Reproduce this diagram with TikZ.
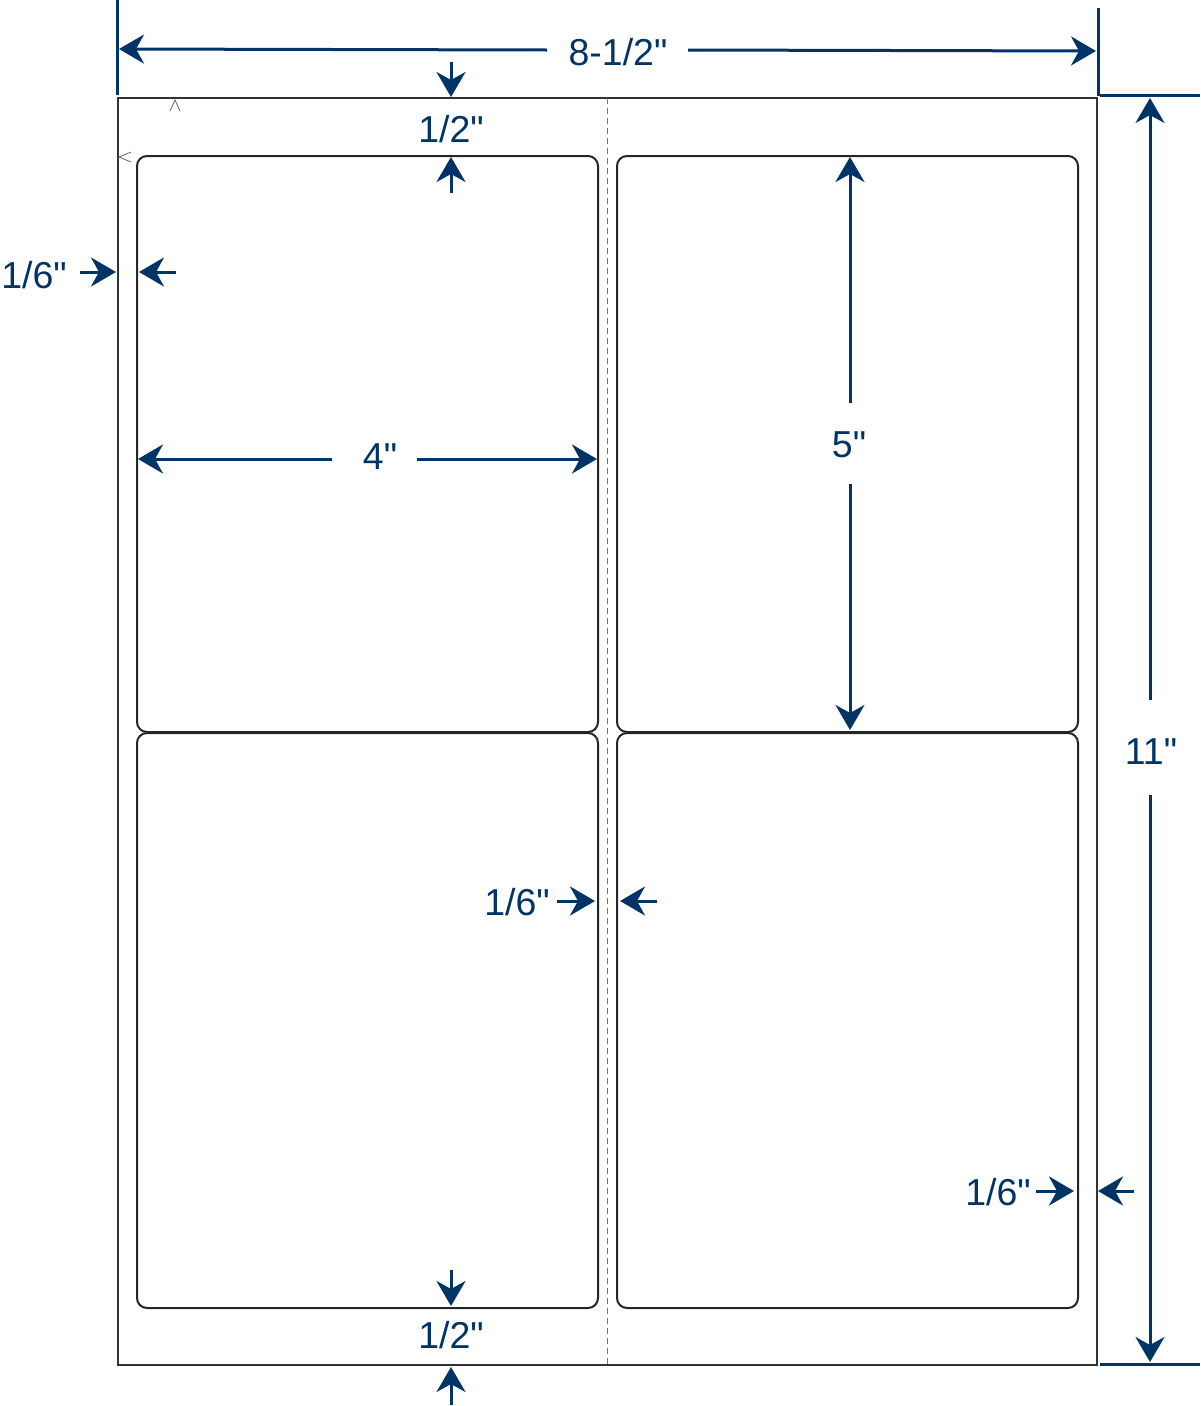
\documentclass[tikz,border=0pt]{standalone}
\usepackage{fontspec}
\setmainfont{Liberation Sans}
\newfontfamily\dimfont{Liberation Sans}
\usetikzlibrary{arrows.meta}
\definecolor{navy}{RGB}{0,51,102}
\begin{document}
\begin{tikzpicture}[x=1pt,y=-1pt,
  dimarrow/.style={draw=navy, line width=3pt, -{Stealth[length=25pt,width=29pt,inset=8pt]}},
  extline/.style={draw=navy, line width=3pt},
  dimtext/.style={text=navy, font=\dimfont\fontsize{37.5}{40}\selectfont, inner sep=0pt},
  sheetbox/.style={draw=black!80, line width=2pt},
  labelbox/.style={draw=black!85, line width=2pt, rounded corners=10pt},
  cutline/.style={draw=black!55, line width=1pt, dash pattern=on 6pt off 4pt},
  marktick/.style={draw=black!60, line width=0.8pt}]
\useasboundingbox (0,0) rectangle (1200,1406);
% sheet and labels
\draw[sheetbox] (118,98) rectangle (1097,1365);
\draw[cutline] (607,98) -- (607,1365);
\draw[labelbox] (137,156) rectangle (598,732);
\draw[labelbox] (137,733) rectangle (598,1308);
\draw[labelbox] (617,156) rectangle (1078,732);
\draw[labelbox] (617,733) rectangle (1078,1308);
% small corner marks
\draw[marktick] (170,111) -- (175,100) -- (180,111);
\draw[marktick] (131,152) -- (119,157) -- (131,162);
% text nodes
\node[dimtext] (w) at (618,52) {8-1/2"};
\node[dimtext] (topm) at (451,129) {1/2"};
\node[dimtext] (leftm) at (34,275) {1/6"};
\node[dimtext] (lw) at (380,457) {4"};
\node[dimtext] (lh) at (849,445) {5"};
\node[dimtext] (gap) at (517,902) {1/6"};
\node[dimtext] (rightm) at (998,1192) {1/6"};
\node[dimtext] (h) at (1151,752) {11"};
\node[dimtext] (botm) at (451,1335) {1/2"};
% coordinates
\coordinate (wl) at (547,50);  \coordinate (wlt) at (119,49);
\coordinate (wr) at (688,50);  \coordinate (wrt) at (1096,51);
\coordinate (e1a) at (117,0);  \coordinate (e1b) at (117,95);
\coordinate (e2a) at (1098,8); \coordinate (e2b) at (1098,96);
\coordinate (e3a) at (1100,95); \coordinate (e3b) at (1200,95);
\coordinate (e4a) at (1100,1364); \coordinate (e4b) at (1200,1364);
\coordinate (hu) at (1150,700); \coordinate (hut) at (1150,98);
\coordinate (hd) at (1150,795); \coordinate (hdt) at (1150,1362);
\coordinate (t1) at (451,62);  \coordinate (t1t) at (451,97);
\coordinate (t2) at (451,193); \coordinate (t2t) at (451,157);
\coordinate (l1) at (80,272);  \coordinate (l1t) at (116,272);
\coordinate (l2) at (176,272); \coordinate (l2t) at (139,272);
\coordinate (w1) at (332,459); \coordinate (w1t) at (138,459);
\coordinate (w2) at (417,459); \coordinate (w2t) at (597,459);
\coordinate (v1) at (850,403); \coordinate (v1t) at (850,157);
\coordinate (v2) at (850,484); \coordinate (v2t) at (850,730);
\coordinate (g1) at (557,901); \coordinate (g1t) at (595,901);
\coordinate (g2) at (657,901); \coordinate (g2t) at (620,901);
\coordinate (r1) at (1036,1191); \coordinate (r1t) at (1074,1191);
\coordinate (r2) at (1134,1191); \coordinate (r2t) at (1098,1191);
\coordinate (b1) at (451,1270); \coordinate (b1t) at (451,1306);
\coordinate (b2) at (451,1405); \coordinate (b2t) at (451,1367);
% extension lines
\draw[extline] (e1a) -- (e1b);
\draw[extline] (e2a) -- (e2b);
\draw[extline] (e3a) -- (e3b);
\draw[extline] (e4a) -- (e4b);
% dimension arrows
\draw[dimarrow] (wl) -- (wlt);
\draw[dimarrow] (wr) -- (wrt);
\draw[dimarrow] (hu) -- (hut);
\draw[dimarrow] (hd) -- (hdt);
\draw[dimarrow] (t1) -- (t1t);
\draw[dimarrow] (t2) -- (t2t);
\draw[dimarrow] (l1) -- (l1t);
\draw[dimarrow] (l2) -- (l2t);
\draw[dimarrow] (w1) -- (w1t);
\draw[dimarrow] (w2) -- (w2t);
\draw[dimarrow] (v1) -- (v1t);
\draw[dimarrow] (v2) -- (v2t);
\draw[dimarrow] (g1) -- (g1t);
\draw[dimarrow] (g2) -- (g2t);
\draw[dimarrow] (r1) -- (r1t);
\draw[dimarrow] (r2) -- (r2t);
\draw[dimarrow] (b1) -- (b1t);
\draw[dimarrow] (b2) -- (b2t);
\end{tikzpicture}
\end{document}
